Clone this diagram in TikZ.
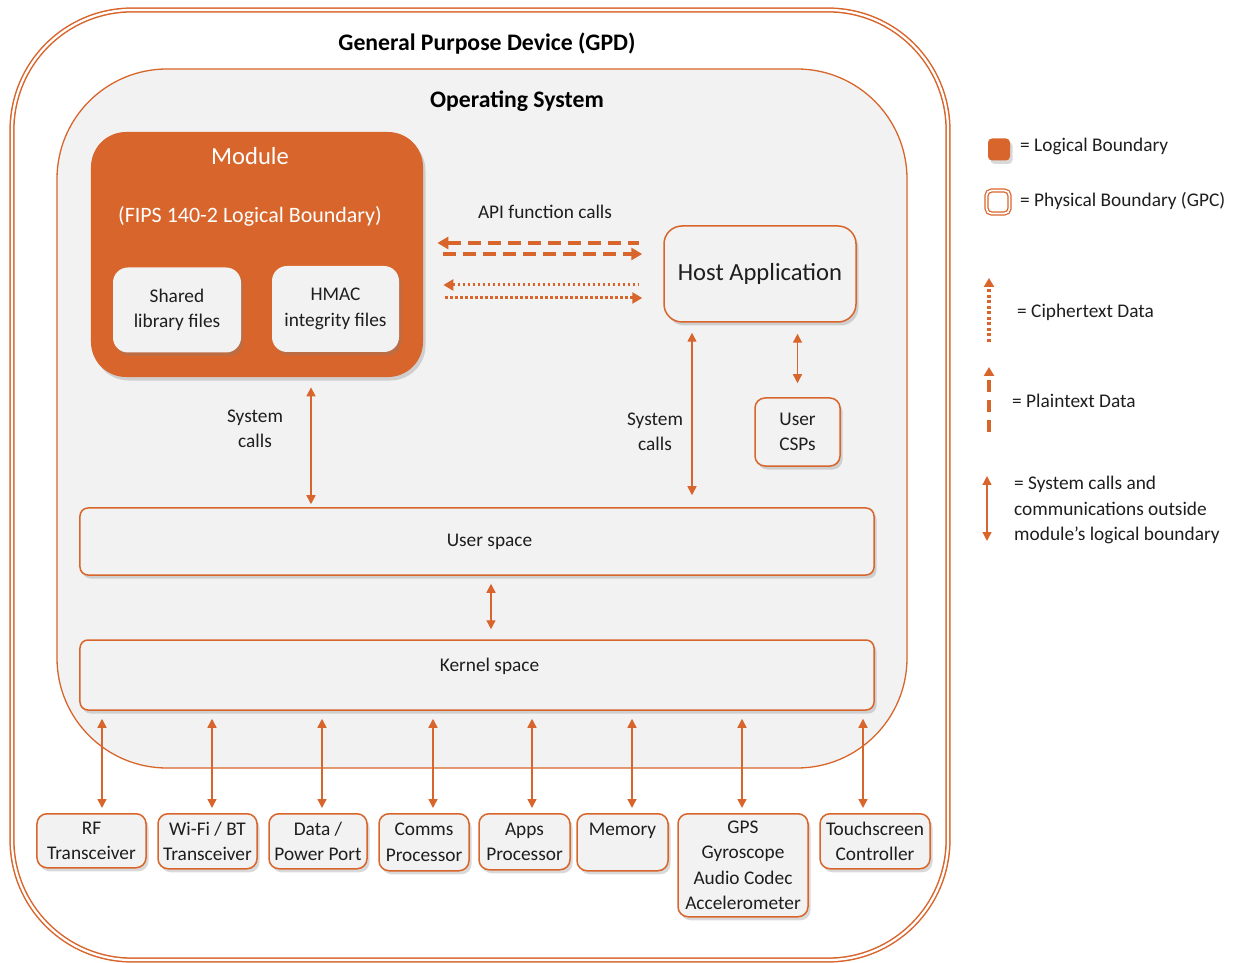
\documentclass[tikz,border=0pt]{standalone}
\usepackage{fontspec}
\setmainfont{Carlito}
\usetikzlibrary{arrows.meta,shadows,positioning}
\definecolor{fipsorange}{HTML}{D8652B}
\definecolor{osgray}{HTML}{F2F2F2}
\definecolor{txt}{HTML}{1E1E1E}
\tikzset{
  boundary/.style={draw=fipsorange, line width=0.3mm, double=white, double distance=0.45mm, rounded corners=24mm},
  osbox/.style={draw=fipsorange, line width=0.26mm, fill=osgray, rounded corners=22mm},
  shade/.style={drop shadow={opacity=0.3, shadow xshift=0.5mm, shadow yshift=-0.7mm}},
  logic/.style={fill=fipsorange, rounded corners=7mm, shade},
  filebox/.style={fill=osgray, rounded corners=3mm, align=center, text=txt, inner sep=0pt,
    font=\fontsize{11}{14.5}\selectfont, shade},
  comp/.style={draw=fipsorange, line width=0.3mm, fill=osgray, rounded corners=2mm, align=center,
    text=txt, inner sep=0pt, font=\fontsize{11}{14.5}\selectfont, shade},
  lbl/.style={text=txt, font=\fontsize{11}{14.5}\selectfont, align=center},
  head/.style={text=black, font=\fontsize{13.5}{16}\selectfont\bfseries},
  syscall/.style={fipsorange, line width=0.28mm, {Triangle[length=1.8mm,width=1.8mm]}-{Triangle[length=1.8mm,width=1.8mm]}},
  plaindata/.style={fipsorange, line width=0.8mm, dash pattern=on 2.6mm off 1.4mm},
  cipherdata/.style={fipsorange, line width=0.6mm, dash pattern=on 0.55mm off 0.45mm},
  bigtip/.style={-{Triangle[length=2.2mm,width=2.4mm]}},
}
\begin{document}
\begin{tikzpicture}[x=0.2mm, y=-0.2mm]
  \useasboundingbox (0,0) rectangle (1240,963);

  % boundaries
  \node[boundary, minimum width=187.2mm, minimum height=190mm] (gpd) at (480,485) {};
  \node[head] (gpdtitle) at (487,44) {General Purpose Device (GPD)};
  \node[osbox, minimum width=170mm, minimum height=139.8mm] (os) at (482,418.5) {};
  \node[head] (ostitle) at (517,101) {Operating System};

  % module
  \node[logic, minimum width=66.4mm, minimum height=49mm] (module) at (257,254.5) {};
  \node[text=white, font=\fontsize{14}{16}\selectfont] (modtitle) at (250,156) {Module};
  \node[text=white, font=\fontsize{12.5}{15}\selectfont] (modsub) at (250,216) {(FIPS 140-2 Logical Boundary)};
  \node[filebox, minimum width=25.6mm, minimum height=17mm] (shared) at (177,310) {Shared\\library files};
  \node[filebox, minimum width=25.4mm, minimum height=17.2mm] (hmac) at (335.5,309) {HMAC\\integrity files};

  % host side
  \node[comp, rounded corners=3.6mm, minimum width=38.4mm, minimum height=19.2mm,
        font=\fontsize{14}{16}\selectfont] (host) at (760,274) {Host Application};
  \node[comp, minimum width=17mm, minimum height=13.6mm] (csps) at (797.5,432) {User\\CSPs};
  \node[lbl] (apilbl) at (545,212) {API function calls};

  % spaces
  \node[comp, rounded corners=1.6mm, minimum width=158.8mm, minimum height=13.4mm] (userspace) at (477,541.5) {\hspace{5mm}User space};
  \node[comp, rounded corners=1.6mm, minimum width=158.8mm, minimum height=14mm] (kernel) at (477,675) {\hspace{5mm}Kernel space\\[-1mm]\mbox{}};
  \node[lbl] (modcalls) at (255,429) {System\\calls};
  \node[lbl] (hostcalls) at (655,432) {System\\calls};

  % hardware
  \node[comp, anchor=north, minimum width=21.8mm, minimum height=10.8mm] (rf) at (91.5,813) {RF\\Transceiver};
  \node[comp, anchor=north, minimum width=19.8mm, minimum height=11mm] (wifi) at (207.5,813) {Wi-Fi / BT\\Transceiver};
  \node[comp, anchor=north, minimum width=19.6mm, minimum height=11mm] (data) at (318,813) {Data /\\Power Port};
  \node[comp, anchor=north, minimum width=18mm, minimum height=11.4mm] (comms) at (424,813) {Comms\\Processor};
  \node[comp, anchor=north, minimum width=18.2mm, minimum height=11.2mm] (apps) at (524.5,813) {Apps\\Processor};
  \node[comp, anchor=north, minimum width=18.2mm, minimum height=11.4mm] (memory) at (622.5,813) {Memory\\\mbox{}};
  \node[comp, anchor=north, minimum width=26mm, minimum height=20.6mm] (gps) at (743,813) {GPS\\Gyroscope\\Audio Codec\\Accelerometer};
  \node[comp, anchor=north, minimum width=22mm, minimum height=11mm] (touch) at (875,813) {Touchscreen\\Controller};

  % API data flows
  \coordinate (pt1) at ([yshift=6.2mm]host.west);
  \coordinate (pt2) at ([yshift=4mm]host.west);
  \coordinate (ct1) at ([yshift=-2.2mm]host.west);
  \coordinate (ct2) at ([yshift=-4.8mm]host.west);
  \draw[plaindata, {Triangle[length=2.2mm,width=2.4mm]}-, shorten <=2.8mm, shorten >=4.8mm] (module.east |- pt1) -- (pt1);
  \draw[plaindata, bigtip, shorten <=4mm, shorten >=4.2mm] (module.east |- pt2) -- (pt2);
  \draw[cipherdata, {Triangle[length=2mm,width=2.2mm]}-, shorten <=4mm, shorten >=4.8mm] (module.east |- ct1) -- (ct1);
  \draw[cipherdata, -{Triangle[length=2mm,width=2.2mm]}, shorten <=4.4mm, shorten >=4.2mm] (module.east |- ct2) -- (ct2);

  % system calls
  \coordinate (mcall) at ([xshift=10.8mm]module.south);
  \draw[syscall, shorten <=2mm, shorten >=0.6mm] (mcall) -- (mcall |- userspace.north);
  \coordinate (hcall) at ([xshift=-13.6mm]host.south);
  \draw[syscall, shorten <=2mm, shorten >=2.4mm] (hcall) -- (hcall |- userspace.north);
  \draw[syscall, shorten <=2.2mm, shorten >=2.8mm] (host.south -| csps.north) -- (csps.north);
  \coordinate (ucall) at ([xshift=2.8mm]userspace.south);
  \draw[syscall, shorten <=1.6mm, shorten >=2mm] (ucall) -- (ucall |- kernel.north);
  \foreach \b/\dx in {rf/2.1, wifi/0.9, data/0.8, comms/1.8, apps/1.5, memory/1.9, gps/-0.2, touch/-2.4}{
    \coordinate (t\b) at ([xshift=\dx mm]\b.north);
    \draw[syscall, shorten <=1.6mm, shorten >=1mm] (kernel.south -| t\b) -- (t\b);
  }

  % legend
  \node[fill=fipsorange, rounded corners=0.8mm, minimum size=4.4mm, inner sep=0pt, shade] (keylogic) at (999,149.5) {};
  \node[lbl, anchor=west] (keylogictxt) at (1014,146) {= Logical Boundary};
  \node[draw=fipsorange, line width=0.25mm, double=white, double distance=0.35mm, rounded corners=1mm,
        minimum size=4.6mm, inner sep=0pt] (keyphys) at (998,202) {};
  \node[lbl, anchor=west] (keyphystxt) at (1014,201) {= Physical Boundary (GPC)};
  \coordinate (kc1) at (989,342);
  \coordinate (kc2) at (989,278);
  \draw[cipherdata, line width=0.65mm, dash pattern=on 0.6mm off 0.5mm, -{Triangle[length=1.8mm,width=2mm]}] (kc1) -- (kc2);
  \node[lbl, anchor=west] (keyciphtxt) at (1011,312) {= Ciphertext Data};
  \coordinate (kp1) at (989,432);
  \coordinate (kp2) at (989,367);
  \draw[plaindata, line width=0.65mm, dash pattern=on 2.4mm off 1.6mm, -{Triangle[length=1.8mm,width=2mm]}] (kp1) -- (kp2);
  \node[lbl, anchor=west] (keyplaintxt) at (1006,401) {= Plaintext Data};
  \coordinate (ks1) at (987,476);
  \coordinate (ks2) at (987,541);
  \draw[syscall] (ks1) -- (ks2);
  \node[lbl, anchor=west, align=left] (keysystxt) at (1008,510) {= System calls and\\communications outside\\module’s logical boundary};
\end{tikzpicture}
\end{document}
